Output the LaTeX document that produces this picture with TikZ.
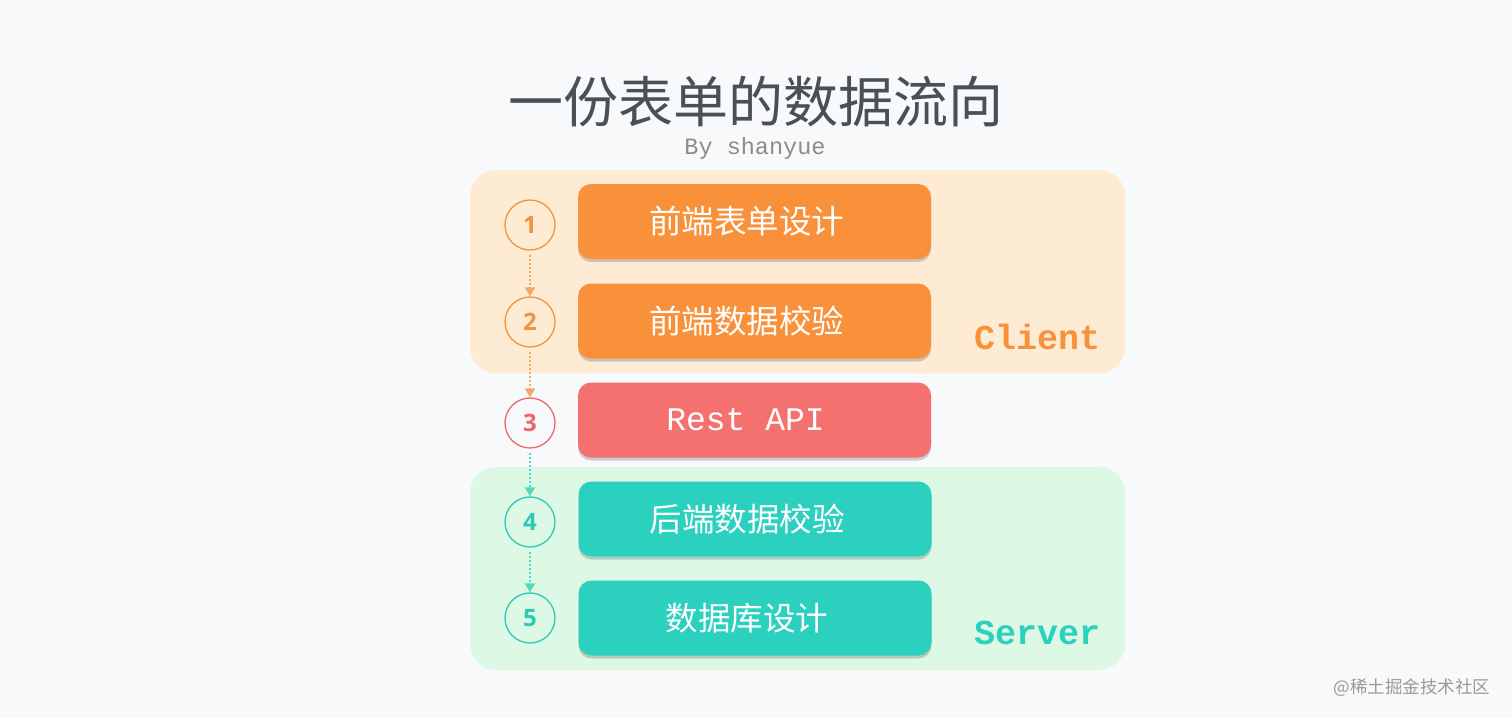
\documentclass[tikz,border=0pt]{standalone}
\usepackage{fontspec}
\setmainfont{Liberation Serif}
\newfontfamily\cjk{Noto Sans CJK SC}
\newfontfamily\monof{Liberation Mono}
\newfontfamily\numf{Open Sans}
\usetikzlibrary{arrows.meta,shadows}
\definecolor{bgc}{HTML}{F8F9FB}
\definecolor{titlec}{HTML}{4A5058}
\definecolor{subc}{HTML}{8C8C8C}
\definecolor{peach}{HTML}{FEEBD4}
\definecolor{mint}{HTML}{DDF9E5}
\definecolor{orangec}{HTML}{F8913A}
\definecolor{redc}{HTML}{F47170}
\definecolor{tealc}{HTML}{2BD1BE}
\definecolor{orangel}{HTML}{F09340}
\definecolor{redl}{HTML}{EE6767}
\definecolor{teall}{HTML}{2ACBB5}
\definecolor{wmc}{HTML}{9A9A9A}
\tikzset{
  panel/.style={rounded corners=26pt, minimum width=655pt, minimum height=203pt, inner sep=0pt},
  stepbox/.style={rounded corners=13pt, minimum width=353pt, minimum height=75pt, inner sep=0pt,
    text=white, font=\cjk\fontsize{32.5}{38}\selectfont,
    drop shadow={shadow xshift=0pt, shadow yshift=-3pt, opacity=0.18, fill=black}},
  circ/.style={circle, minimum size=50pt, inner sep=0pt, line width=1.3pt, fill=none,
    font=\numf\bfseries\fontsize{24}{28}\selectfont},
  flow/.style={line width=2pt, dash pattern=on 2pt off 2pt},
  sidelbl/.style={font=\monof\bfseries\fontsize{35}{40}\selectfont},
}
\begin{document}
\begin{tikzpicture}[x=1pt,y=-1pt]
\fill[bgc] (0,0) rectangle (1512,718);
\useasboundingbox (0,0) rectangle (1512,718);

\node[text=titlec, font=\cjk\fontsize{55}{60}\selectfont] (title) at (756,102) {一份表单的数据流向};
\node[text=subc, font=\monof\fontsize{23.5}{26}\selectfont] (sub) at (755,148) {By shanyue};

\node[panel, fill=peach] (client) at (797.5,271.5) {};
\node[panel, fill=mint] (server) at (797.5,568.5) {};

\node[sidelbl, text=orangec] (clientlbl) at (1037,337) {Client};
\node[sidelbl, text=tealc] (serverlbl) at (1037,633) {Server};

\node[stepbox, fill=orangec] (b1) at (754.5,221.5) {\kern-16pt 前端表单设计};
\node[stepbox, fill=orangec] (b2) at (754.5,321) {\kern-16pt 前端数据校验};
\node[stepbox, fill=redc, font=\monof\fontsize{33}{38}\selectfont] (b3) at (754.5,420) {\kern-18pt Rest API};
\node[stepbox, fill=tealc] (b4) at (755,519) {\kern-16pt 后端数据校验};
\node[stepbox, fill=tealc] (b5) at (755,618) {\kern-16pt 数据库设计};

\node[circ, draw=orangel, text=orangel] (c1) at (530,225) {1};
\node[circ, draw=orangel, text=orangel] (c2) at (530,322) {2};
\node[circ, draw=redl, text=redl] (c3) at (530,423) {3};
\node[circ, draw=teall, text=teall] (c4) at (530,522) {4};
\node[circ, draw=teall, text=teall] (c5) at (530,618) {5};

\draw[flow, draw=orangel!80, -{Triangle[width=10pt,length=9pt,fill=orangel!80]}] (c1.south) ++(0,4) -- (c2.north);
\draw[flow, draw=orangel!80, -{Triangle[width=10pt,length=9pt,fill=orangel!80]}] (c2.south) ++(0,4) -- (c3.north);
\draw[flow, draw=teall!80, -{Triangle[width=10pt,length=9pt,fill=teall!80]}] (c3.south) ++(0,4) -- (c4.north);
\draw[flow, draw=teall!80, -{Triangle[width=10pt,length=9pt,fill=teall!80]}] (c4.south) ++(0,4) -- (c5.north);

\node[text=wmc, font=\cjk\fontsize{17.5}{20}\selectfont, anchor=east] (wm) at (1494,688) {@稀土掘金技术社区};
\end{tikzpicture}
\end{document}
